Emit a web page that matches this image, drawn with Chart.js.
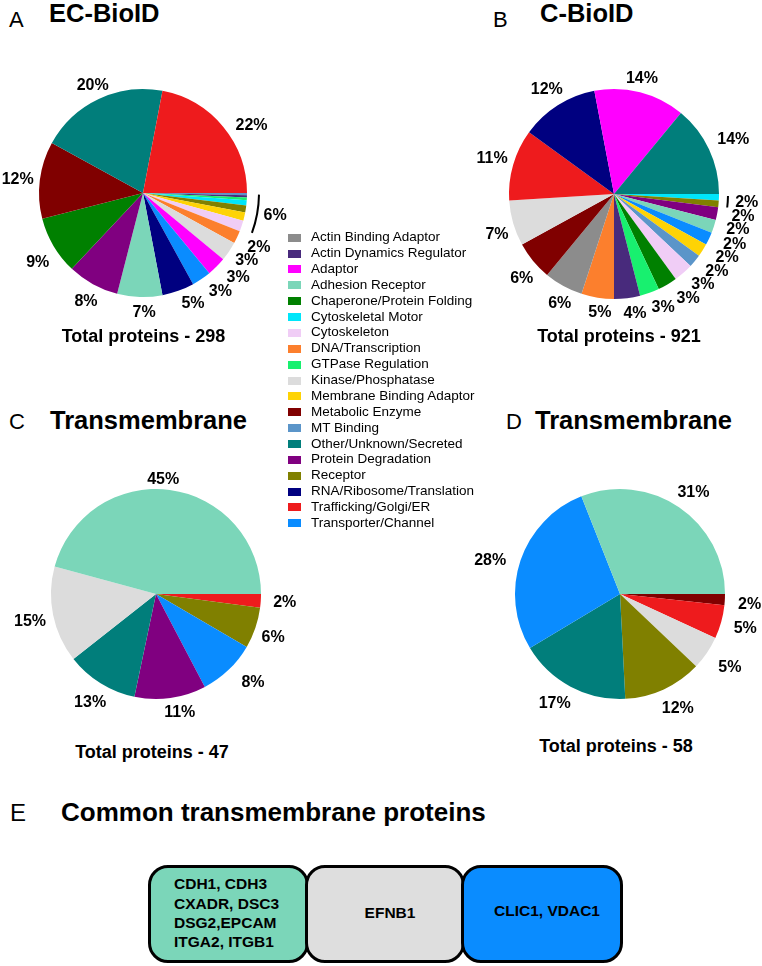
<!DOCTYPE html>
<html><head><meta charset="utf-8">
<script src="https://cdn.jsdelivr.net/npm/chart.js@4.4.0/dist/chart.umd.min.js"></script>
<style>
html,body{margin:0;padding:0;background:#fff;}
#page{position:relative;width:762px;height:966px;overflow:hidden;font-family:"Liberation Sans",Arial,sans-serif;color:#000;}
.t{position:absolute;white-space:nowrap;}
canvas{position:absolute;}
.box{position:absolute;box-sizing:border-box;border:3px solid #000;border-radius:20px;}
.sw{position:absolute;width:13px;height:8px;}
</style></head><body><div id="page"></div>
<script>
// ---- categories & colours ----
const categories = ['Actin Binding Adaptor','Actin Dynamics Regulator','Adaptor','Adhesion Receptor','Chaperone/Protein Folding','Cytoskeletal Motor','Cytoskeleton','DNA/Transcription','GTPase Regulation','Kinase/Phosphatase','Membrane Binding Adaptor','Metabolic Enzyme','MT Binding','Other/Unknown/Secreted','Protein Degradation','Receptor','RNA/Ribosome/Translation','Trafficking/Golgi/ER','Transporter/Channel'];
const categoryColors = ['#8c8c8c','#482a7c','#ff00ff','#7bd6b9','#008000','#00e6fa','#f0cdf6','#fc7f2d','#18f06f','#dcdcdc','#fed305','#800000','#5b95c9','#017e7b','#800080','#808000','#000080','#ee1b1d','#0a8cff'];

// ---- A: EC-BioID (clockwise from 3 o'clock) ----
const ecCategories = ['MT Binding','Actin Dynamics Regulator','GTPase Regulation','Cytoskeletal Motor','Receptor','Membrane Binding Adaptor','Cytoskeleton','DNA/Transcription','Kinase/Phosphatase','Adaptor','Transporter/Channel','RNA/Ribosome/Translation','Adhesion Receptor','Protein Degradation','Chaperone/Protein Folding','Metabolic Enzyme','Other/Unknown/Secreted','Trafficking/Golgi/ER'];
const ecValues = [0.35,0.35,0.4,0.8,1.1,1.3,1.7,2,3,3,3,5,7,8,9,12,20,22];
const ecLabelText = ['6%','2%','3%','3%','3%','5%','7%','8%','9%','12%','20%','22%'];
const ecLabelSlices = [[0,6],[7,7],[8,8],[9,9],[10,10],[11,11],[12,12],[13,13],[14,14],[15,15],[16,16],[17,17]];

// ---- B: C-BioID ----
const cCategories = ['Cytoskeletal Motor','Receptor','Protein Degradation','Adhesion Receptor','Transporter/Channel','Membrane Binding Adaptor','MT Binding','Cytoskeleton','Chaperone/Protein Folding','GTPase Regulation','Actin Dynamics Regulator','DNA/Transcription','Actin Binding Adaptor','Metabolic Enzyme','Kinase/Phosphatase','Trafficking/Golgi/ER','RNA/Ribosome/Translation','Adaptor','Other/Unknown/Secreted'];
const cValues = [1,1,2,2,2,2,2,3,3,3,4,5,6,6,7,11,12,14,14];
const cLabelText = ['2%','2%','2%','2%','2%','2%','3%','3%','3%','4%','5%','6%','6%','7%','11%','12%','14%','14%'];
const cLabelSlices = [[0,1],[2,2],[3,3],[4,4],[5,5],[6,6],[7,7],[8,8],[9,9],[10,10],[11,11],[12,12],[13,13],[14,14],[15,15],[16,16],[17,17],[18,18]];

// ---- C: Transmembrane (EC-BioID) ----
const tmCCategories = ['Trafficking/Golgi/ER','Receptor','Transporter/Channel','Protein Degradation','Other/Unknown/Secreted','Kinase/Phosphatase','Adhesion Receptor'];
const tmCValues = [2.1,6.3,8.9,11,11.1,14.8,45.8];
const tmCLabelText = ['2%','6%','8%','11%','13%','15%','45%'];

// ---- D: Transmembrane (C-BioID) ----
const tmDCategories = ['Metabolic Enzyme','Trafficking/Golgi/ER','Kinase/Phosphatase','Receptor','Other/Unknown/Secreted','Transporter/Channel','Adhesion Receptor'];
const tmDValues = [1.7,5.2,5.2,12.1,17.2,27.6,31.0];
const tmDLabelText = ['2%','5%','5%','12%','17%','28%','31%'];

const titles = ['EC-BioID','C-BioID','Transmembrane','Transmembrane'];
const totals = ['Total proteins - 298','Total proteins - 921','Total proteins - 47','Total proteins - 58'];
const commonTitle = 'Common transmembrane proteins';
const commonGroups = [['CDH1, CDH3','CXADR, DSC3','DSG2,EPCAM','ITGA2, ITGB1'],['EFNB1'],['CLIC1, VDAC1']];
const commonColors = ['#7bd6b9','#dedede','#0a8cff'];

// ---- label placement (radial offset px, angle shift deg, optional bracket) ----
const ecPlace = [{dr:30,da:-1,br:12,bs:0.8,be:-1.5},{dr:24,da:0},{dr:20,da:-1},{dr:23,da:-3.5},{dr:21,da:-4},{dr:17,da:-4.6},{dr:16,da:-2.3},{dr:19,da:-1.2},{dr:22,da:-2.7},{dr:22,da:-1.2},{dr:15,da:0.2},{dr:24,da:7.6}];
const cPlace = [{dr:28,da:0,br:9,bs:1,be:-0.4},{dr:26,da:-0.7},{dr:24,da:-1.8},{dr:26,da:-2.3},{dr:25,da:-2.9},{dr:24,da:-2.5},{dr:22,da:-3},{dr:23,da:-4.8},{dr:19,da:-3.5},{dr:16,da:-2.8},{dr:14,da:-2.2},{dr:17,da:-2.4},{dr:20,da:-2.8},{dr:19,da:-3.1},{dr:22,da:0},{dr:19,da:-0.4},{dr:14,da:-0.8},{dr:26,da:0.8}];
const tmCPlace = [{dr:24,da:0},{dr:20,da:1.6},{dr:26,da:-4},{dr:16,da:-3.4},{dr:22,da:-0.6},{dr:24,da:-1},{dr:10,da:-4}];
const tmDPlace = [{dr:25,da:1.7},{dr:25,da:0.1},{dr:27,da:-0.5},{dr:23,da:-2.2},{dr:23,da:2.6},{dr:29,da:-4.4},{dr:20,da:1.8}];

const page = document.getElementById('page');
const FONT = '"Liberation Sans", Arial, sans-serif';
function addText(txt, x, baseline, size, weight, align){
  const d = document.createElement('div');
  d.className = 't';
  d.textContent = txt;
  d.style.fontSize = size + 'px';
  d.style.lineHeight = size + 'px';
  d.style.fontWeight = weight;
  d.style.top = (baseline - 0.8465*size) + 'px';
  if (align === 'center'){ d.style.left = (x-300)+'px'; d.style.width='600px'; d.style.textAlign='center'; }
  else d.style.left = x + 'px';
  page.appendChild(d);
  return d;
}
const colorOf = c => categoryColors[categories.indexOf(c)];

function makePie(left, top, w, h, cx, cy, r, cats, values, texts, slices, place){
  const cv = document.createElement('canvas');
  cv.width = w; cv.height = h;
  cv.style.left = left+'px'; cv.style.top = top+'px';
  page.appendChild(cv);
  const plugin = {
    id:'pctLabels',
    afterDatasetsDraw(chart){
      const arcs = chart.getDatasetMeta(0).data;
      const ctx = chart.ctx;
      ctx.save();
      ctx.font = 'bold 16px ' + FONT;
      ctx.fillStyle = '#000'; ctx.textAlign = 'center'; ctx.textBaseline = 'middle';
      texts.forEach((t,i)=>{
        const p = place[i];
        const sl = slices ? slices[i] : [i,i];
        const a0 = arcs[sl[0]], a1 = arcs[sl[1]];
        const s = a0.startAngle, e = a1.endAngle;
        const mid = (s+e)/2 + p.da*Math.PI/180;
        const R = a0.outerRadius + p.dr;
        ctx.fillText(t, a0.x + R*Math.cos(mid), a0.y + R*Math.sin(mid));
        if (p.br){
          ctx.beginPath(); ctx.lineWidth = 2; ctx.strokeStyle = '#000';
          ctx.arc(a0.x, a0.y, a0.outerRadius + p.br, s + p.bs*Math.PI/180, e + p.be*Math.PI/180);
          ctx.stroke();
        }
      });
      ctx.restore();
    }
  };
  new Chart(cv, {
    type:'pie',
    data:{ labels:cats, datasets:[{ data:values, backgroundColor:cats.map(colorOf), borderWidth:0, hoverOffset:0, offset:0 }] },
    options:{
      responsive:false, animation:false, rotation:90,
      layout:{ padding:{ left:cx-r-left, top:cy-r-top, right:left+w-cx-r, bottom:top+h-cy-r } },
      plugins:{ legend:{display:false}, tooltip:{enabled:false} },
      events:[]
    },
    plugins:[plugin]
  });
}

// pies
makePie(0, 60, 300, 280, 143, 193, 104, ecCategories, ecValues, ecLabelText, ecLabelSlices, ecPlace);
makePie(470, 60, 292, 280, 614, 194, 105, cCategories, cValues, cLabelText, cLabelSlices, cPlace);
makePie(0, 460, 310, 270, 156, 594, 105, tmCCategories, tmCValues, tmCLabelText, null, tmCPlace);
makePie(462, 460, 300, 270, 620, 594, 105, tmDCategories, tmDValues, tmDLabelText, null, tmDPlace);

// panel letters & titles
addText('A', 9, 28, 22, 'normal');
addText(titles[0], 49, 23, 25.5, 'bold');
addText('B', 493, 28, 22, 'normal');
addText(titles[1], 540, 23, 25.5, 'bold');
addText('C', 9, 430, 22, 'normal');
addText(titles[2], 50, 430, 25.5, 'bold');
addText('D', 506, 430, 22, 'normal');
addText(titles[3], 535, 430, 25.5, 'bold');
addText('E', 10, 821, 24, 'normal');
addText(commonTitle, 61, 821, 26, 'bold');

// totals
addText(totals[0], 143.5, 342, 18, 'bold', 'center');
addText(totals[1], 619, 342, 18, 'bold', 'center');
addText(totals[2], 152, 758, 18, 'bold', 'center');
addText(totals[3], 616, 752, 18, 'bold', 'center');

// legend
categories.forEach((c,i)=>{
  const base = 241.7 + i*15.87;
  const sw = document.createElement('div');
  sw.className = 'sw';
  sw.style.left = '288px'; sw.style.top = (base-8)+'px';
  sw.style.background = categoryColors[i];
  page.appendChild(sw);
  addText(c, 311, base, 13.5, 'normal');
});

// common proteins boxes
const boxGeom = [[148,161],[305,160],[461,162]];
boxGeom.forEach((g,i)=>{
  const b = document.createElement('div');
  b.className = 'box';
  b.style.left = g[0]+'px'; b.style.width = g[1]+'px';
  b.style.top = '865px'; b.style.height = '98px';
  b.style.background = commonColors[i];
  page.appendChild(b);
});
commonGroups[0].forEach((t,i)=> addText(t, 174, 889.5 + i*19.3, 15.5, 'bold'));
addText(commonGroups[1][0], 390, 918.5, 15.5, 'bold', 'center');
addText(commonGroups[2][0], 547, 916.5, 15.5, 'bold', 'center');
</script>
</body></html>
